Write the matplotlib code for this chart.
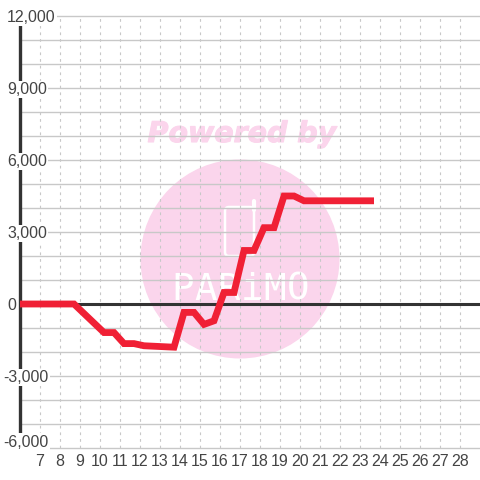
import matplotlib
matplotlib.use("Agg")
import matplotlib.pyplot as plt
import matplotlib.patheffects as pe
from matplotlib.patches import Ellipse, FancyBboxPatch
from matplotlib.transforms import blended_transform_factory

plt.rcParams["font.family"] = ["Liberation Sans", "DejaVu Sans"]

hours = [6, 8.7, 10.2, 10.7, 11.2, 11.7, 12.2, 12.7, 13.2, 13.7, 14.2, 14.7, 15.2, 15.7,
         16.2, 16.7, 17.2, 17.7, 18.2, 18.7, 19.2, 19.7, 20.2, 20.7, 21.2, 21.7, 22.2, 22.7, 23.2, 23.7]
balance = [0, 0, -1190, -1190, -1650, -1650, -1740, -1760, -1780, -1800, -350, -350, -850, -700,
           480, 480, 2230, 2230, 3180, 3180, 4500, 4500, 4300, 4300, 4300, 4300, 4300, 4300, 4300, 4300]
x_ticks = list(range(7, 29))
y_grid = list(range(-6000, 12001, 1000))
y_labels = [12000, 9000, 6000, 3000, 0, -3000, -6000]

fig = plt.figure(figsize=(4.8, 4.8), dpi=100)
ax = fig.add_axes([20 / 480, 32 / 480, 460 / 480, 432 / 480])
ax.set_xlim(6, 29)
ax.set_ylim(-6000, 12000)
ax.patch.set_alpha(0)
for s in ax.spines.values():
    s.set_visible(False)
ax.set_xticks([])
ax.set_yticks([])

# watermark, in pixels of the whole figure
bg = fig.add_axes([0, 0, 1, 1], zorder=-1)
bg.set_xlim(0, 480)
bg.set_ylim(480, 0)
bg.axis("off")
bg.add_patch(Ellipse((240, 259), 199, 199, fc="#fbd5ec", ec="none"))
bg.add_patch(FancyBboxPatch((225, 207), 29, 49, boxstyle="round,pad=0,rounding_size=4",
                            fc="none", ec="white", lw=1.8))
bg.plot([254, 254], [201, 210], color="white", lw=3, solid_capstyle="round")
bg.text(242, 134, "Powered by", color="#fbd5ec", fontsize=20.5, fontweight="bold", style="italic",
        family="DejaVu Sans", ha="center", va="center",
        path_effects=[pe.withStroke(linewidth=0.8, foreground="#fbd5ec")])
for ch, px in zip("PARiMO", [183, 206, 229, 252, 275, 298]):
    bg.text(px, 290, ch, color="white", fontsize=27, family="DejaVu Sans Mono",
            ha="center", va="center")

for v in y_grid:
    ax.axhline(v, color="#c8c8c8", lw=1, zorder=1, clip_on=False)
for t in x_ticks:
    ax.axvline(t, color="#c8c8c8", lw=0.8, ls=(0, (2.5, 3.5)), zorder=1)
    ax.annotate(str(t), (t, -6000), xytext=(0, -13), textcoords="offset pixels", ha="center",
                va="center", fontsize=11.5, color="#444444")

ax.axhline(0, color="#333333", lw=2.2, zorder=2)
ax.axvline(6, color="#333333", lw=2.4, zorder=2, clip_on=False)
ax.plot(hours, balance, color="#f02035", lw=4.9, solid_capstyle="butt", solid_joinstyle="miter", zorder=3)

# y labels sit on white boxes that break the axis line; the lowest one is lifted off the x labels
label_trans = blended_transform_factory(fig.transFigure, ax.transData)
for v in y_labels:
    px = 3 if v < 0 else 7
    nudge = 240 if v == y_labels[-1] else -60
    ax.text(px / 480, v + nudge, f"{v:,}", transform=label_trans, ha="left", va="center", fontsize=11.5,
            color="#444444", zorder=4, bbox=dict(fc="white", ec="none", pad=1) if v != 0 else None)

fig.savefig("out.png", dpi=100)
